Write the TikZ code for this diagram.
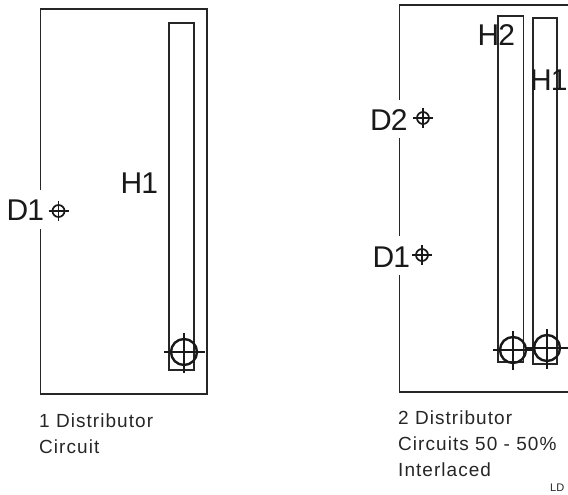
\documentclass[tikz,border=0pt]{standalone}
\usepackage{fontspec}
\setmainfont{Liberation Sans}
\newcommand{\bigfont}{\fontsize{30}{30}\selectfont\addfontfeature{LetterSpace=-3}}
\newcommand{\capfont}{\fontsize{19}{26}\selectfont\addfontfeature{LetterSpace=5.5}}
\tikzset{
  frame/.style={draw=black!85,line width=1.8pt},
  tube/.style={draw=black!85,line width=1.6pt},
  big/.style={inner sep=0pt,anchor=base west,font=\bigfont,text=black!90},
  caption/.style={inner sep=0pt,anchor=base west,font=\capfont,text=black!85},
  bigtarget/.style={draw=black!90,line width=2.4pt},
  crosshair/.style={draw=black!90,line width=1.6pt},
  smalltarget/.style={draw=black!90,line width=1.7pt}
}
\newcommand{\heater}[5]{% x y left right down
  \draw[bigtarget] (#1,#2) circle[radius=13];
  \draw[crosshair] (#1-#3,#2) -- (#1+#4,#2) (#1,#2-19) -- (#1,#2+#5);
}
\newcommand{\dist}[2]{%
  \draw[smalltarget] (#1,#2) circle[radius=6];
  \draw[smalltarget] (#1-10,#2) -- (#1+10,#2) (#1,#2-10) -- (#1,#2+10);
}
\begin{document}
\begin{tikzpicture}[x=1pt,y=-1pt]
\useasboundingbox (0,0) rectangle (568,495);
\clip (0,0) rectangle (568,495);
% left panel
\draw[frame] (40.5,190) -- (40.5,9) -- (207,9) -- (207,394) -- (40.5,394) -- (40.5,229);
\draw[tube] (169,23) rectangle (194,370);
\heater{184}{352}{20}{21}{21}
\dist{58.5}{211}
\node[big] (d1a) at (6.5,220) {D1};
\node[big] (h1a) at (120.5,193) {H1};
\node[caption] (capa) at (39,427) {1 Distributor};
\node[caption] (capb) at (39,453) {Circuit};
% right panel
\draw[frame] (399.5,100) -- (399.5,5) -- (575,5) (575,392) -- (399.5,392) -- (399.5,275);
\draw[frame] (399.5,138) -- (399.5,236);
\draw[tube] (498,16) rectangle (523.5,362);
\draw[tube] (533,18) rectangle (557,364);
\heater{513}{350}{20}{21}{20}
\heater{547}{348}{21}{24}{21}
\dist{423}{118}
\dist{422}{255}
\node[big] (h2) at (477.5,46) {H2};
\node[big] (h1b) at (530,91) {H1};
\node[big] (d2) at (370,130) {D2};
\node[big] (d1b) at (372.5,267) {D1};
\node[caption] (capc) at (398,424) {2 Distributor};
\node[caption] (capd) at (398,450) {Circuits 50 - 50\%};
\node[caption] (cape) at (398,476) {Interlaced};
\node[inner sep=0pt,anchor=base west,font=\fontsize{11}{11}\selectfont,text=black!85] (ld) at (550,491) {LD};
\end{tikzpicture}
\end{document}
